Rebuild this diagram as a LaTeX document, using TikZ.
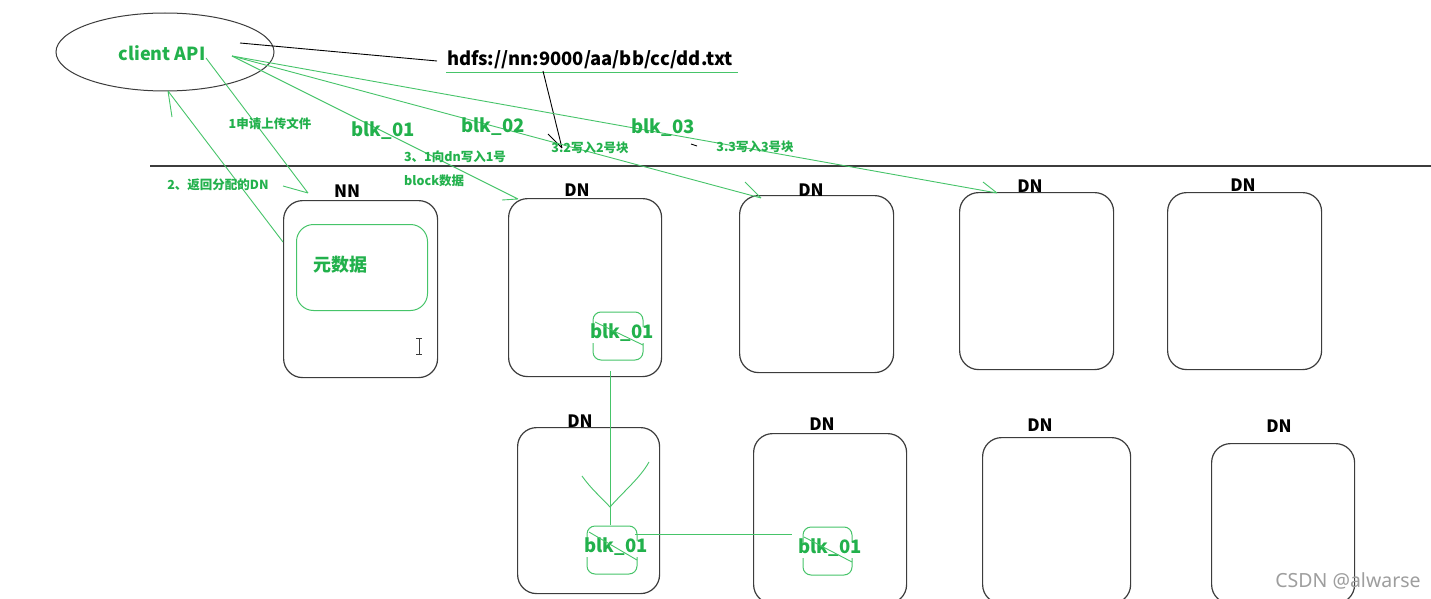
\documentclass[tikz,border=0pt]{standalone}
\usepackage{fontspec}
\newfontfamily\cjk{Noto Sans CJK SC}
\newfontfamily\wmfont{Noto Sans}
\definecolor{pgreen}{RGB}{34,177,76}
\definecolor{lgreen}{RGB}{70,196,105}
\definecolor{boxgray}{RGB}{60,60,60}
\tikzset{
  dnbox/.style={draw=boxgray, line width=1.2pt, rounded corners=19pt, anchor=north west, inner sep=0pt},
  gline/.style={draw=lgreen, line width=0.9pt},
  bline/.style={draw=black, line width=0.9pt},
  blabel/.style={font=\cjk\bfseries\fontsize{17}{17}\selectfont, text=black, inner sep=0pt},
  glabel/.style={font=\cjk\bfseries\fontsize{12.5}{12.5}\selectfont, text=pgreen, inner sep=0pt},
  gbig/.style={font=\cjk\bfseries\fontsize{18.5}{18.5}\selectfont, text=pgreen, inner sep=0pt},
}
\begin{document}
\begin{tikzpicture}[x=1pt,y=-1pt]
\useasboundingbox (0,0) rectangle (1431,599);
\fill[white] (0,0) rectangle (1431,599);

% client ellipse
\draw[boxgray, line width=1pt] (165,52) ellipse [x radius=109, y radius=39];
\node[gbig, font=\cjk\bfseries\fontsize{18}{18}\selectfont] (client) at (162,53) {client API};

% path text
\node[font=\cjk\bfseries\fontsize{18.4}{18.4}\selectfont, inner sep=0pt, anchor=west] (path) at (447,60) {hdfs://nn:9000/aa/bb/cc/dd.txt};
\draw[lgreen, line width=1pt] (446,73) -- (738,73);
\coordinate (ck) at (240,43);
\draw[bline] (ck) -- (437,61);
\coordinate (pa) at (543,71);
\coordinate (pb) at (562,148);
\coordinate (pc) at (548,134);
\draw[bline] (pa) -- (pb) (pc) -- (pb);
\draw[bline, line width=0.8pt] (691,144) -- (697,146);

% separator
\draw[boxgray, line width=1.1pt] (150,166) -- (1431,166);

% boxes
\node[dnbox, minimum width=154pt, minimum height=177pt] (nn) at (283,200) {};
\node[dnbox, minimum width=153pt, minimum height=178pt] (dn1) at (508,198) {};
\node[dnbox, minimum width=154pt, minimum height=177pt] (dn2) at (739,195) {};
\node[dnbox, minimum width=154pt, minimum height=177pt] (dn3) at (959,192) {};
\node[dnbox, minimum width=154pt, minimum height=177pt] (dn4) at (1167,192) {};
\node[dnbox, minimum width=142pt, minimum height=166pt] (dn5) at (517,427) {};
\node[dnbox, minimum width=153pt, minimum height=170pt] (dn6) at (753,433) {};
\node[dnbox, minimum width=148pt, minimum height=166pt] (dn7) at (982,437) {};
\node[dnbox, minimum width=143pt, minimum height=160pt] (dn8) at (1211,443) {};

\node[blabel] (lnn) at (347,191) {NN};
\node[blabel] (l1) at (577,190) {DN};
\node[blabel] (l2) at (811,190) {DN};
\node[blabel] (l3) at (1030,186) {DN};
\node[blabel] (l4) at (1243,185) {DN};
\node[blabel] (l5) at (580,421) {DN};
\node[blabel] (l6) at (822,424) {DN};
\node[blabel] (l7) at (1040,425) {DN};
\node[blabel] (l8) at (1279,426) {DN};

% metadata box
\node[draw=lgreen, line width=1pt, rounded corners=17pt, anchor=north west, minimum width=131pt, minimum height=86pt, inner sep=0pt] (meta) at (296,224) {};
\node[gbig, font=\cjk\bfseries\fontsize{18}{18}\selectfont] (metat) at (340,265) {元数据};

% I-beam cursor
\draw[boxgray, line width=0.8pt] (419,338) -- (419,354) (416,338) -- (422,338) (416,354) -- (422,354);

% block boxes
\newcommand{\blkshape}[4]{%
  \draw[lgreen, line width=1pt, rounded corners=8pt] (#1,#2+17) -- (#1,#2) -- (#3,#2) -- (#3,#2+15);
  \draw[lgreen, line width=1pt, rounded corners=8pt] (#1,#4-17) -- (#1,#4) -- (#3,#4) -- (#3,#4-17);}
\blkshape{593}{312}{643}{360}
\node[gbig] (b1) at (622,333) {blk\_01};
\draw[lgreen, line width=0.9pt] (595,322) -- (643,345);
\blkshape{587}{526}{637}{574}
\node[gbig] (b5) at (616,547) {blk\_01};
\draw[lgreen, line width=0.9pt] (589,532) -- (637,560);
\blkshape{803}{527}{852}{575}
\node[gbig] (b6) at (830,548) {blk\_01};
\draw[lgreen, line width=0.9pt] (804,537) -- (852,562);

% replication lines
\coordinate (r1) at (610,371);
\coordinate (r2) at (610,525);
\draw[gline] (r1) -- (r2);
\draw[gline] (582,476) .. controls (592,490) and (600,496) .. (610,507) .. controls (625,490) and (640,478) .. (649,462);
\coordinate (h1) at (635,534);
\coordinate (h2) at (792,534);
\draw[gline] (h1) -- (h2);

% request / response
\coordinate (s1) at (206,58);
\coordinate (e1) at (308,193);
\draw[gline] (s1) -- (e1) (283,186) -- (e1);
\node[glabel] (t1) at (270,124) {1申请上传文件};
\coordinate (s2) at (283,242);
\coordinate (e2) at (168,91);
\draw[gline] (s2) -- (e2) (172,117) -- (e2);
\node[glabel] (t2) at (218,185) {2、返回分配的DN};

% block writes
\coordinate (cs) at (232,56);
\coordinate (w1) at (518,199);
\coordinate (w2) at (761,198);
\coordinate (w3) at (997,193);
\draw[gline] (cs) -- (w1) (502,200) -- (w1);
\draw[gline] (cs) -- (w2) (745,182) -- (w2);
\draw[gline] (cs) -- (w3) (983,182) -- (w3);

\node[gbig] (tb1) at (383,131) {blk\_01};
\node[gbig] (tb2) at (493,127) {blk\_02};
\node[gbig] (tb3) at (663,128) {blk\_03};
\node[glabel] (t31) at (455,157) {3、1向dn写入1号};
\node[glabel, anchor=west] (t31b) at (404,181) {block数据};
\node[glabel] (t32) at (590,148) {3.2写入2号块};
\node[glabel] (t33) at (755,147) {3.3写入3号块};

% watermark
\node[font=\wmfont\fontsize{19.5}{19.5}\selectfont, text=black!38, inner sep=0pt] (wm) at (1348,581) {CSDN @alwarse};
\end{tikzpicture}
\end{document}
